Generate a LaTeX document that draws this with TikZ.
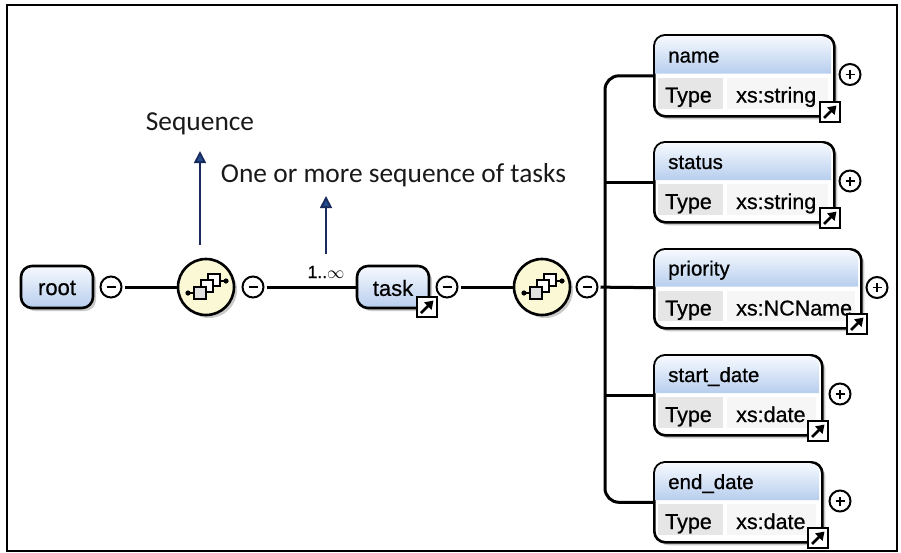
\documentclass[tikz,border=0pt]{standalone}
\usepackage{fontspec}
\setmainfont{Liberation Sans}
\newfontfamily\boxfont[FakeBold=0.7]{Liberation Sans}
\newfontfamily\notefont{Carlito}
\usetikzlibrary{arrows.meta,shadows}

\definecolor{boxtop}{HTML}{F6F9FE}
\definecolor{boxbot}{HTML}{B7CEEE}
\definecolor{seqfill}{HTML}{FBF8D6}
\definecolor{typecell}{HTML}{E6E6E6}
\definecolor{valcell}{HTML}{F6F6F6}
\definecolor{arrowhead}{HTML}{1F4E8C}
\definecolor{arrowline}{HTML}{1B2A5E}

\tikzset{
	conn/.style={line width=3pt,black},
	softshadow/.style={drop shadow={shadow xshift=3pt,shadow yshift=-3pt,opacity=.35,fill=black!60}},
	elembox/.style={draw=black,line width=2.6pt,rounded corners=11pt,inner sep=0pt,fill=white,softshadow},
	smallbox/.style={elembox,minimum width=72pt,minimum height=42pt,top color=boxtop,bottom color=boxbot},
	seqcircle/.style={circle,draw=black,line width=2.6pt,minimum size=56pt,inner sep=0pt,fill=seqfill,softshadow},
	minusbtn/.style={circle,draw=black,line width=2pt,minimum size=21pt,inner sep=0pt,fill=white,
		path picture={\draw[line width=1.7pt] ([xshift=-4.5pt]path picture bounding box.center) -- ([xshift=4.5pt]path picture bounding box.center);}},
	plusbtn/.style={minusbtn,
		path picture={\draw[line width=1.7pt] ([xshift=-4.5pt]path picture bounding box.center) -- ([xshift=4.5pt]path picture bounding box.center);
			\draw[line width=1.7pt] ([yshift=-4.5pt]path picture bounding box.center) -- ([yshift=4.5pt]path picture bounding box.center);}},
	linkbtn/.style={draw=black,line width=2.2pt,fill=white,minimum size=20pt,inner sep=0pt},
	labeltxt/.style={font=\boxfont\fontsize{20.5}{22}\selectfont,inner sep=0pt},
	typetxt/.style={font=\boxfont\fontsize{21.5}{23}\selectfont,inner sep=0pt},
	nametxt/.style={font=\boxfont\fontsize{22}{24}\selectfont,inner sep=0pt},
	notetxt/.style={font=\notefont\fontsize{27.4}{29}\selectfont,text=black!90,inner sep=0pt},
	notearrow/.style={line width=1.8pt,arrowline,-{Triangle[length=12pt,width=12pt,fill=arrowhead]}}
}

% name, left, top, right, bottom, text of the type, centre of the plus
\newcommand{\elemrow}[7]{
	\node[elembox,minimum width=#4pt-#2pt,minimum height=#5pt-#3pt,anchor=north west] (#1) at (#2,#3) {};
	\shade[top color=boxtop,bottom color=boxbot] (#2+2,#3/2+#5/2-1) [rounded corners=10pt] -- (#2+2,#3+2) -- (#4-2,#3+2) [sharp corners] -- (#4-2,#3/2+#5/2-1) -- cycle;
	\fill[typecell] (#2+5,#3/2+#5/2+3) rectangle (#2+70,#5-6);
	\fill[valcell] (#2+74,#3/2+#5/2+3) rectangle (#4-5,#5-6);
	\node[labeltxt,anchor=base west] (#1txt) at (#2+15,#3/2+#5/2-12) {\detokenize{#1}};
	\node[typetxt,anchor=base west] (#1type) at (#2+12,#3/2+#5/2+28) {Type};
	\node[typetxt,anchor=base west] (#1val) at (#2+83,#3/2+#5/2+28) {#6};
	\node[linkbtn] (#1link) at (#4-3,#5-3) {};
	\draw[line width=2.6pt,-{Triangle[length=8pt,width=10pt]}] ([shift={(-6pt,-6pt)}]#1link.center) -- ([shift={(6.5pt,6.5pt)}]#1link.center);
	\node[plusbtn] (#1plus) at (#7,#3/2+#5/2) {};
}
% the three small squares inside a sequence circle
\newcommand{\seqicon}[1]{
	\draw[line width=1.8pt] ([shift={(-18pt,-6pt)}]#1.center) -- ([shift={(-6pt,-6pt)}]#1.center);
	\draw[line width=1.8pt] ([shift={(8pt,6pt)}]#1.center) -- ([shift={(20pt,6pt)}]#1.center);
	\fill ([shift={(-18pt,-6pt)}]#1.center) circle (2.6pt);
	\fill ([shift={(20pt,6pt)}]#1.center) circle (2.6pt);
	\draw[line width=1.8pt,fill=white] ([shift={(2pt,1pt)}]#1.center) rectangle ([shift={(14pt,13pt)}]#1.center);
	\draw[line width=1.8pt,fill=white] ([shift={(-5pt,-5pt)}]#1.center) rectangle ([shift={(7pt,7pt)}]#1.center);
	\draw[line width=1.8pt,fill=black!12] ([shift={(-12pt,-12pt)}]#1.center) rectangle ([shift={(0pt,0pt)}]#1.center);
}

\begin{document}
\begin{tikzpicture}[x=1pt,y=-1pt]
\useasboundingbox (0,0) rectangle (901,552);
\draw[line width=2.4pt,black] (7,5) rectangle (897,551);%frame

% the chain along the middle
\node[smallbox] (root) at (57,287) {};
\node[nametxt] (roottxt) at (57,288) {root};
\node[minusbtn] (minusA) at (111,287) {};
\node[seqcircle] (seqA) at (206,287) {};
\node[minusbtn] (minusB) at (253,287) {};
\node[smallbox] (task) at (393,287) {};
\node[nametxt] (tasktxt) at (393,288) {task};
\node[linkbtn] (tasklink) at (427,307) {};
\draw[line width=2.6pt,-{Triangle[length=8pt,width=10pt]}] ([shift={(-6pt,-6pt)}]tasklink.center) -- ([shift={(6.5pt,6.5pt)}]tasklink.center);
\node[minusbtn] (minusC) at (447,287) {};
\node[seqcircle] (seqB) at (542,287) {};
\node[minusbtn] (minusD) at (587,287) {};
\seqicon{seqA}
\seqicon{seqB}
\coordinate (bus) at (605,287);

% the five child elements
\elemrow{name}{653}{34}{833}{115}{xs:string}{850}
\elemrow{status}{653}{141}{833}{221}{xs:string}{850}
\elemrow{priority}{653}{248}{860}{327}{xs:NCName}{877}
\elemrow{start_date}{653}{354}{821}{434}{xs:date}{840}
\elemrow{end_date}{653}{461}{821}{541}{xs:date}{840}

\draw[conn,shorten <=2pt] (minusA) -- (seqA);
\draw[conn,shorten <=2pt] (minusB) -- (task);
\draw[conn,shorten <=2pt] (minusC) -- (seqB);
\draw[conn,shorten <=2pt] (minusD) -- (priority);
\draw[conn,rounded corners=14pt] (name.west) -| (bus) |- (end_date.west);
\draw[conn] (status.west) -- (status.west -| bus);
\draw[conn] (start_date.west) -- (start_date.west -| bus);

% the notes
\node[notetxt] (seqnote) at (200,124) {Sequence};
\coordinate (seqfoot) at (200,245);
\coordinate (seqtip) at (200,151);
\draw[notearrow] (seqfoot) -- (seqtip);
\node[notetxt] (occnote) at (393.5,175) {One or more sequence of tasks};
\coordinate (occfoot) at (326,254);
\coordinate (occtip) at (326,196);
\draw[notearrow] (occfoot) -- (occtip);
\node[font=\boxfont\fontsize{17.5}{19}\selectfont,inner sep=0pt] (occurs) at (326,272) {1..$\infty$};
\end{tikzpicture}
\end{document}
